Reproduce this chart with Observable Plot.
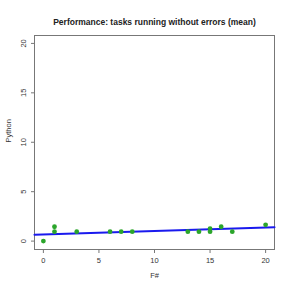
<!DOCTYPE html>
<html>
<head>
<meta charset="utf-8">
<script src="https://cdn.jsdelivr.net/npm/d3@7"></script>
<script src="https://cdn.jsdelivr.net/npm/@observablehq/plot@0.6"></script>
<style>
html,body{margin:0;padding:0;background:#fff;}
svg{display:block;}
</style>
</head>
<body>
<div id="chart"></div>
<script>
const title = "Performance: tasks running without errors (mean)";
const xLabel = "F#";
const yLabel = "Python";
const fsharp = [0, 1, 1, 3, 6, 7, 8, 13, 14, 15, 15, 16, 17, 20];
const python = [0, 0.95, 1.45, 0.95, 0.95, 0.95, 0.95, 0.95, 0.95, 0.95, 1.27, 1.45, 0.95, 1.65];
const fitIntercept = 0.67;
const fitSlope = 0.035;
const xTicks = [0, 5, 10, 15, 20];
const yTicks = [0, 5, 10, 15, 20];
const xDomain = [-0.8, 20.8];
const yDomain = [-0.85, 20.8];

const points = fsharp.map((x, i) => ({x, y: python[i]}));
const fit = xDomain.map(x => ({x, y: fitIntercept + fitSlope * x}));

const chart = Plot.plot({
  width: 291,
  height: 291,
  marginLeft: 34,
  marginRight: 17,
  marginTop: 35,
  marginBottom: 42,
  style: {fontFamily: "Liberation Sans, Arial, sans-serif", fontSize: "7.5px", color: "#333", background: "#fff"},
  x: {domain: xDomain},
  y: {domain: yDomain},
  marks: [
    Plot.frame({stroke: "#777"}),
    Plot.axisX({ticks: xTicks, tickSize: 4, tickPadding: 4, stroke: "#777", label: null}),
    Plot.axisY({ticks: yTicks, tickSize: 3, tickPadding: 6, tickRotate: -90, stroke: "#777", label: null}),
    Plot.text([xLabel], {frameAnchor: "bottom", dy: 28, fontSize: 7.5, fill: "#333"}),
    Plot.text([yLabel], {frameAnchor: "left", dx: -26, rotate: -90, fontSize: 7.5, fill: "#333"}),
    Plot.text([title], {frameAnchor: "top", dy: -17, fontSize: 8.5, fontWeight: "bold", fill: "#222"}),
    Plot.line(fit, {x: "x", y: "y", stroke: "#1a1aee", strokeWidth: 2}),
    Plot.dot(points, {x: "x", y: "y", r: 2.4, fill: "#2ba52b", stroke: "none"})
  ]
});
document.getElementById("chart").appendChild(chart);
</script>
</body>
</html>
